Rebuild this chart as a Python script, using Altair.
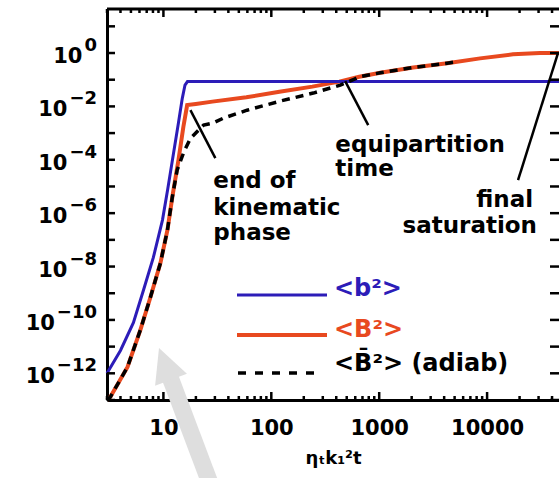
import altair as alt
import pandas as pd

# ---------------- values ----------------
# <b^2>  (blue)
t_blue = [3.0, 4.0, 5.27, 6.53, 8.07, 9.8, 10.96, 12.3, 13.8, 14.96, 15.85, 16.7, 46400]
b_blue = [1e-12, 7.2e-12, 7.9e-11, 1.3e-9, 2.2e-8, 5.5e-7, 7.9e-6, 1.41e-4, 2.5e-3,
          2.0e-2, 6.3e-2, 8.5e-2, 8.5e-2]

# <B^2>  (red)
t_red = [3.0, 3.23, 4.65, 6.12, 7.59, 9.38, 10.9, 12.1, 13.8, 15.3, 16.6, 19.95, 28.4,
         58.7, 119, 240, 427, 653, 1023, 2065, 4266, 8610, 17380, 30900, 46400]
B_red = [1e-13, 1.32e-13, 1.74e-12, 4.27e-11, 7.24e-10, 1.35e-8, 2.34e-7, 4.07e-6, 1e-4,
         1.7e-3, 1.12e-2, 1.24e-2, 1.51e-2, 2.19e-2, 3.55e-2, 5.5e-2, 8.5e-2, 0.129, 0.182,
         0.288, 0.417, 0.631, 0.891, 1.0, 1.0]

# <B^2> adiabatic (black dashed)
t_adiab = [3.0, 3.23, 4.65, 6.12, 7.59, 9.38, 10.9, 12.1, 13.4, 15.5, 17.8, 23.6, 29.0,
           36.0, 59.6, 121, 245, 436, 575, 653, 1023, 2065, 4266, 4840]
B_adiab = [1e-13, 1.32e-13, 1.74e-12, 4.27e-11, 7.24e-10, 1.35e-8, 2.34e-7, 4.07e-6,
           4.07e-5, 2.0e-4, 6.3e-4, 2.0e-3, 2.4e-3, 3.63e-3, 7.2e-3, 1.58e-2, 3.16e-2,
           6.3e-2, 0.1, 0.129, 0.182, 0.288, 0.417, 0.447]

# axis labels / ticks
x_tick_labels = [10, 100, 1000, 10000]
y_label_values = [1e0, 1e-2, 1e-4, 1e-6, 1e-8, 1e-10, 1e-12]
y_label_exps = ["0", "\u22122", "\u22124", "\u22126", "\u22128", "\u221210", "\u221212"]
x_minor_ticks = [m * 10 ** k for k in range(0, 5) for m in range(2, 10)
                 if 3 <= m * 10 ** k <= 46400]
y_decade_ticks = [10.0 ** k for k in range(-13, 2)]

# annotations (anchored in data coordinates)
ptr_t = [17.8, 484, 45400]
ptr_e = [7.24e-3, 8.9e-2, 1.0]
ptr_t2 = [30.3, 791, 19360]
ptr_e2 = [1.15e-4, 2.0e-3, 1.74e-5]

ann_left_text = ["end of", "kinematic", "phase", "equipartition", "time"]
ann_left_t = [29.0, 29.0, 29.0, 392, 392]
ann_left_e = [8.7e-6, 8.5e-7, 9.8e-8, 1.95e-4, 2.5e-5]
ann_right_text = ["final", "saturation"]
ann_right_t = [26700, 29000]
ann_right_e = [1.7e-6, 1.8e-7]

# ---------------- styling ----------------
W, H = 452, 391
BLUE = "#2c1cb8"
RED = "#e8491f"
FONT = "DejaVu Sans"
GREY = "#dedede"
ANN_FS = 23

xscale = alt.Scale(type="log", domain=[3.0, 46400], nice=False)
yscale = alt.Scale(type="log", domain=[1e-13, 44.6], nice=False)

X = alt.X("t:Q", scale=xscale,
          axis=alt.Axis(values=x_tick_labels, format="d", grid=False, ticks=False,
                        domainWidth=3, domainColor="black",
                        labelFont=FONT, labelFontWeight="bold", labelFontSize=21,
                        labelColor="black", labelPadding=17, labelFlush=False,
                        title="\u03b7\u209ck\u2081\u00b2t", titleFont=FONT,
                        titleFontSize=18, titleFontWeight="bold", titleColor="black",
                        titlePadding=11))
Y = alt.Y("e:Q", scale=yscale,
          axis=alt.Axis(labels=False, ticks=False, grid=False, domainWidth=3,
                        domainColor="black", title=""))

one = pd.DataFrame({"k": [0]})

blue_df = pd.DataFrame({"t": t_blue, "e": b_blue})
red_df = pd.DataFrame({"t": t_red, "e": B_red})
adiab_df = pd.DataFrame({"t": t_adiab, "e": B_adiab})

layers = []
layers.append(alt.Chart(red_df).mark_line(color=RED, strokeWidth=4).encode(x=X, y=Y))
layers.append(alt.Chart(blue_df).mark_line(color=BLUE, strokeWidth=3).encode(x=X, y=Y))
layers.append(alt.Chart(adiab_df).mark_line(color="black", strokeWidth=3.5,
                                            strokeDash=[8, 6]).encode(x=X, y=Y))

# frame top line
layers.append(alt.Chart(one).mark_rule(color="black", strokeWidth=3).encode(
    x=alt.value(0), x2=alt.value(W), y=alt.value(0)))

# ticks (inward)
xmaj = pd.DataFrame({"t": x_tick_labels})
xmin = pd.DataFrame({"t": x_minor_ticks})
ydec = pd.DataFrame({"e": y_decade_ticks})
layers.append(alt.Chart(xmaj).mark_rule(color="black", strokeWidth=2.5).encode(
    x=X, y=alt.value(H), y2=alt.value(H - 8)))
layers.append(alt.Chart(xmaj).mark_rule(color="black", strokeWidth=2.5).encode(
    x=X, y=alt.value(0), y2=alt.value(8)))
layers.append(alt.Chart(xmin).mark_rule(color="black", strokeWidth=2.5).encode(
    x=X, y=alt.value(H), y2=alt.value(H - 4)))
layers.append(alt.Chart(xmin).mark_rule(color="black", strokeWidth=2.5).encode(
    x=X, y=alt.value(0), y2=alt.value(4)))
layers.append(alt.Chart(ydec).mark_rule(color="black", strokeWidth=2.5).encode(
    y=Y, x=alt.value(0), x2=alt.value(8)))
layers.append(alt.Chart(ydec).mark_rule(color="black", strokeWidth=2.5).encode(
    y=Y, x=alt.value(W - 9), x2=alt.value(W)))

# y labels: "10" with exponent
EXP_FS = 18
BASE_FS = 21
def exp_width(s):
    return sum(0.838 * EXP_FS if ch == "\u2212" else 0.696 * EXP_FS for ch in s)

ylab = pd.DataFrame({"e": y_label_values, "exp": y_label_exps})
layers.append(alt.Chart(ylab).mark_text(align="right", baseline="alphabetic", dy=-2,
                                        font=FONT, fontWeight="bold", fontSize=EXP_FS,
                                        color="black").encode(
    y=Y, x=alt.value(-10), text="exp:N"))
for n in sorted(set(len(s) for s in y_label_exps)):
    sample = [s for s in y_label_exps if len(s) == n][0]
    xpos = -10 - exp_width(sample) - 2
    layers.append(alt.Chart(ylab).transform_filter(f"length(datum.exp) == {n}").mark_text(
        text="10", align="right", baseline="alphabetic", dy=10, font=FONT,
        fontWeight="bold", fontSize=BASE_FS, color="black").encode(
        y=Y, x=alt.value(xpos)))

# annotation pointers and text
ptr = pd.DataFrame({"t": ptr_t, "e": ptr_e, "t2": ptr_t2, "e2": ptr_e2})
layers.append(alt.Chart(ptr).mark_rule(color="black", strokeWidth=2.5).encode(
    x=X, y=Y, x2="t2:Q", y2="e2:Q"))
annl = pd.DataFrame({"t": ann_left_t, "e": ann_left_e, "label": ann_left_text})
annr = pd.DataFrame({"t": ann_right_t, "e": ann_right_e, "label": ann_right_text})
layers.append(alt.Chart(annl).mark_text(align="left", baseline="alphabetic", font=FONT,
                                        fontWeight="bold", fontSize=ANN_FS,
                                        color="black").encode(x=X, y=Y, text="label:N"))
layers.append(alt.Chart(annr).mark_text(align="right", baseline="alphabetic", font=FONT,
                                        fontWeight="bold", fontSize=ANN_FS,
                                        color="black").encode(x=X, y=Y, text="label:N"))

# legend (inside the plot)
layers.append(alt.Chart(one).mark_rule(color=BLUE, strokeWidth=3).encode(
    x=alt.value(130), x2=alt.value(220), y=alt.value(286)))
layers.append(alt.Chart(one).mark_text(text="<b\u00b2>", align="left", baseline="alphabetic",
                                       font=FONT, fontWeight="bold", fontSize=24,
                                       color=BLUE).encode(x=alt.value(227), y=alt.value(287)))
layers.append(alt.Chart(one).mark_rule(color=RED, strokeWidth=4).encode(
    x=alt.value(130), x2=alt.value(220), y=alt.value(326)))
layers.append(alt.Chart(one).mark_text(text="<B\u00b2>", align="left", baseline="alphabetic",
                                       font=FONT, fontWeight="bold", fontSize=24,
                                       color=RED).encode(x=alt.value(227), y=alt.value(328)))
layers.append(alt.Chart(one).mark_rule(color="black", strokeWidth=3.5, strokeDash=[8, 9]).encode(
    x=alt.value(131), x2=alt.value(215), y=alt.value(364)))
layers.append(alt.Chart(one).mark_text(text="<B\u0304\u00b2> (adiab)", align="left",
                                       baseline="alphabetic", font=FONT, fontWeight="bold",
                                       fontSize=24, color="black").encode(
    x=alt.value(227), y=alt.value(362)))

# big grey arrow overlay
layers.append(alt.Chart(one).mark_rule(color=GREY, strokeWidth=17).encode(
    x=alt.value(62.6), y=alt.value(367.1), x2=alt.value(108.5), y2=alt.value(488.8)))
layers.append(alt.Chart(one).mark_point(shape="M0,-1L1,1L-1,1Z", filled=True, size=1156,
                                        angle=339.3, color=GREY, opacity=1).encode(
    x=alt.value(58.0), y=alt.value(354.9)))

chart = alt.layer(*layers).properties(
    width=W, height=H,
    autosize=alt.AutoSizeParams(type="none"),
    padding={"left": 107, "top": 9, "right": 0, "bottom": 78},
    background="white",
).configure_view(strokeOpacity=0)

chart.save("out.html", embed_options={"renderer": "svg", "actions": False})
